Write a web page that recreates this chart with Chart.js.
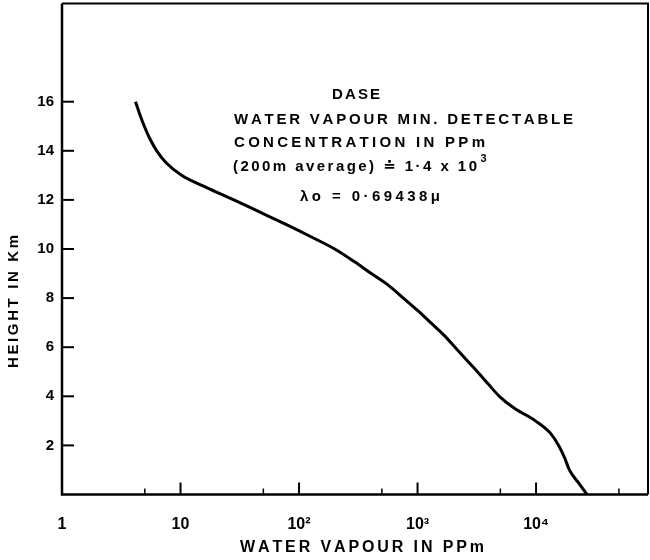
<!DOCTYPE html>
<html><head><meta charset="utf-8">
<style>html,body{margin:0;padding:0;background:#fff}#wrap{width:650px;height:560px;position:relative}</style>
<script src="https://cdn.jsdelivr.net/npm/chart.js@4.4.1/dist/chart.umd.min.js"></script>
</head><body><div id="wrap"><canvas id="c" width="650" height="560"></canvas></div>
<script>
// ---- data ----
const heightsKm = [16.0,15.5,15.0,14.5,14.0,13.5,13.0,12.5,12.0,11.5,11.0,10.5,10.0,9.5,9.0,8.5,8.0,7.5,7.0,6.5,6.0,5.5,5.0,4.5,4.0,3.5,3.0,2.5,2.0,1.5,1.0,0.5,0.0];
const vapourPpm = [4.17,4.52,4.95,5.5,6.3,7.6,10.2,16.6,28.2,46.8,77.6,126,200,290,407,575,759,1000,1290,1660,2070,2570,3200,3950,4900,6610,9890,13200,15500,17400,19100,22600,26900];
const yTickValues = [2,4,6,8,10,12,14,16];
const xTickValues = [1,10,100,1000,10000];
const xTickLabels = ['1','10','10\u00B2','10\u00B3','10\u2074'];
const xMinorTicks = [5,50,500,5000,50000];
const xTitle = 'WATER VAPOUR IN PPm';
const yTitle = 'HEIGHT IN Km';
const noteLines = ['DASE','WATER VAPOUR MIN. DETECTABLE','CONCENTRATION IN PPm','(200m average) \u2250 1\u00B74 x 10','\u03BBo = 0\u00B769438\u03BC'];
const noteSup = '3';

const FONT = '"Liberation Sans", "DejaVu Sans", sans-serif';
const INK = '#000';

function spaced(ctx, text, x, y, width) {
  const chars = [...text];
  const ws = chars.map(c => ctx.measureText(c).width);
  const total = ws.reduce((a, b) => a + b, 0);
  const extra = chars.length > 1 ? (width - total) / (chars.length - 1) : 0;
  let cx = x;
  ctx.textAlign = 'left';
  chars.forEach((c, i) => { ctx.fillText(c, cx, y); cx += ws[i] + extra; });
  return cx;
}

const decor = {
  id: 'decor',
  afterDraw(chart) {
    const ctx = chart.ctx, a = chart.chartArea;
    const xs = chart.scales.x, ys = chart.scales.y;
    ctx.save();
    ctx.strokeStyle = INK; ctx.fillStyle = INK;
    ctx.lineWidth = 2;
    ctx.beginPath(); ctx.moveTo(a.left, a.top); ctx.lineTo(a.right, a.top); ctx.lineTo(a.right, a.bottom); ctx.stroke();
    ctx.lineWidth = 2.5;
    ctx.beginPath(); ctx.moveTo(a.left, a.top); ctx.lineTo(a.left, a.bottom); ctx.lineTo(a.right, a.bottom); ctx.stroke();
    ctx.lineWidth = 2;
    yTickValues.forEach(v => { const p = ys.getPixelForValue(v); ctx.beginPath(); ctx.moveTo(a.left, p); ctx.lineTo(a.left + 12, p); ctx.stroke(); });
    xTickValues.forEach(v => { const p = xs.getPixelForValue(v); ctx.beginPath(); ctx.moveTo(p, a.bottom); ctx.lineTo(p, a.bottom - 12); ctx.stroke(); });
    ctx.lineWidth = 1.5;
    xMinorTicks.forEach(v => { const p = xs.getPixelForValue(v); ctx.beginPath(); ctx.moveTo(p, a.bottom); ctx.lineTo(p, a.bottom - 6); ctx.stroke(); });
    ctx.textBaseline = 'middle';
    ctx.font = 'bold 16px ' + FONT;
    spaced(ctx, xTitle, 240, 548, 244);
    ctx.save();
    ctx.translate(14, 301.5); ctx.rotate(-Math.PI / 2);
    ctx.font = 'bold 15px ' + FONT;
    spaced(ctx, yTitle, -66.5, 0, 133);
    ctx.restore();
    ctx.font = 'bold 15px ' + FONT;
    spaced(ctx, noteLines[0], 332, 95, 48);
    spaced(ctx, noteLines[1], 234, 120, 339);
    spaced(ctx, noteLines[2], 234, 143, 251);
    const end = spaced(ctx, noteLines[3], 233, 167, 244);
    ctx.font = 'bold 11px ' + FONT;
    ctx.fillText(noteSup, end + 1, 159);
    ctx.font = 'bold 15px ' + FONT;
    spaced(ctx, noteLines[4], 300, 197, 140);
    ctx.restore();
  }
};

new Chart(document.getElementById('c'), {
  type: 'line',
  data: {
    datasets: [{
      data: vapourPpm.map((v, i) => ({ x: v, y: heightsKm[i] })),
      borderColor: INK, borderWidth: 3, pointRadius: 0, fill: false,
      cubicInterpolationMode: 'monotone'
    }]
  },
  options: {
    responsive: false, animation: false, devicePixelRatio: 1,
    layout: { padding: { top: 3.5, right: 2, left: 0, bottom: 0 } },
    plugins: { legend: { display: false }, tooltip: { enabled: false } },
    scales: {
      x: {
        type: 'logarithmic', min: 1, max: 88000,
        grid: { display: false }, border: { display: false },
        afterBuildTicks: s => { s.ticks = xTickValues.map(v => ({ value: v })); },
        afterFit: s => { s.height = 65.5; s.paddingLeft = 0; s.paddingRight = 0; },
        ticks: {
          autoSkip: false, maxRotation: 0, padding: 12, color: INK,
          font: { family: FONT, size: 16, weight: 'bold' },
          callback: (v, i) => xTickLabels[i]
        }
      },
      y: {
        type: 'linear', min: 0, max: 20,
        grid: { display: false }, border: { display: false },
        afterBuildTicks: s => { s.ticks = yTickValues.map(v => ({ value: v })); },
        afterFit: s => { s.width = 62; s.paddingTop = 0; s.paddingBottom = 0; },
        ticks: { padding: 0, color: INK, font: { family: FONT, size: 15, weight: 'bold' } }
      }
    }
  },
  plugins: [decor]
});
</script></body></html>
